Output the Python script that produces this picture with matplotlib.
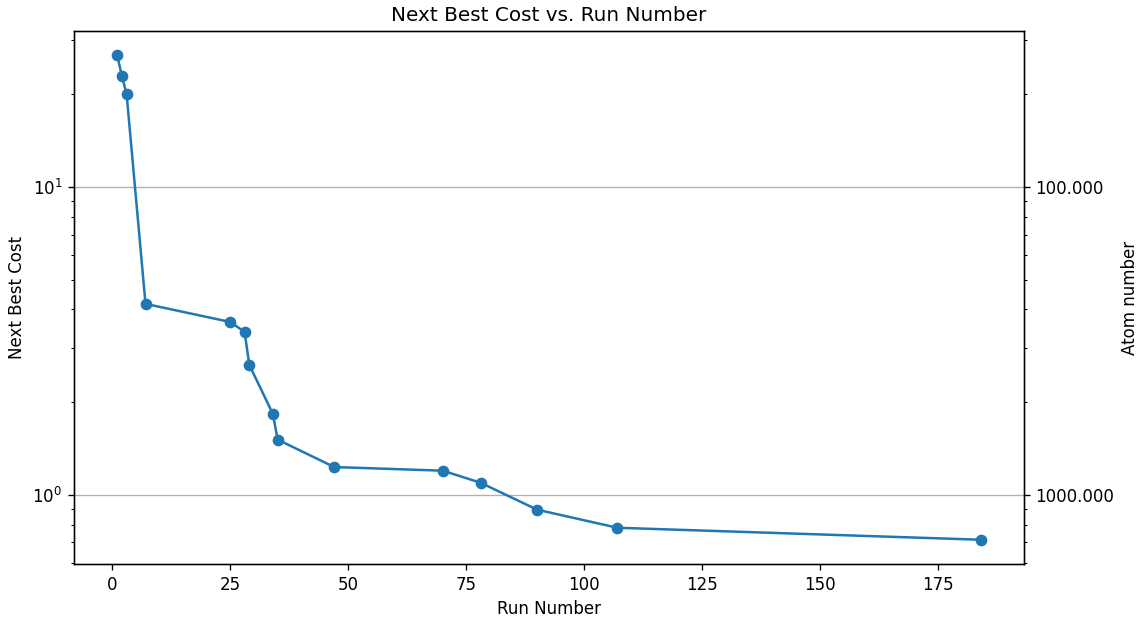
import matplotlib
matplotlib.use("Agg")
import matplotlib.pyplot as plt
from matplotlib.ticker import FuncFormatter, NullFormatter

# Best cost found so far, recorded at the run where it improved
runs = [1, 2, 3, 7, 25, 28, 29, 34, 35, 47, 70, 78, 90, 107, 184]
next_best_cost = [26.8, 22.9, 20.0, 4.17, 3.64, 3.38, 2.64, 1.83, 1.51,
                  1.23, 1.197, 1.094, 0.894, 0.781, 0.714]

DPI = 120
fig, ax = plt.subplots(figsize=(1144 / DPI, 619 / DPI), dpi=DPI)
fig.subplots_adjust(left=0.0647, right=0.895, top=0.950, bottom=0.0889)

ax.plot(runs, next_best_cost, marker="o", color="#1f77b4")
ax.set_yscale("log")
ax.set_xlabel("Run Number")
ax.set_ylabel("Next Best Cost")
ax.set_title("Next Best Cost vs. Run Number")
ax.grid(True, axis="y", which="major", color="#b0b0b0")

# Right-hand axis: atom number corresponding to each cost level
ax2 = ax.twinx()
ax2.set_yscale("log")
ax2.set_ylim(ax.get_ylim())
ax2.yaxis.set_major_formatter(FuncFormatter(lambda v, p: f"{1000.0 / v:.3f}"))
ax2.yaxis.set_minor_formatter(NullFormatter())
ax2.set_ylabel("Atom number")

fig.savefig("out.png", dpi=DPI)
